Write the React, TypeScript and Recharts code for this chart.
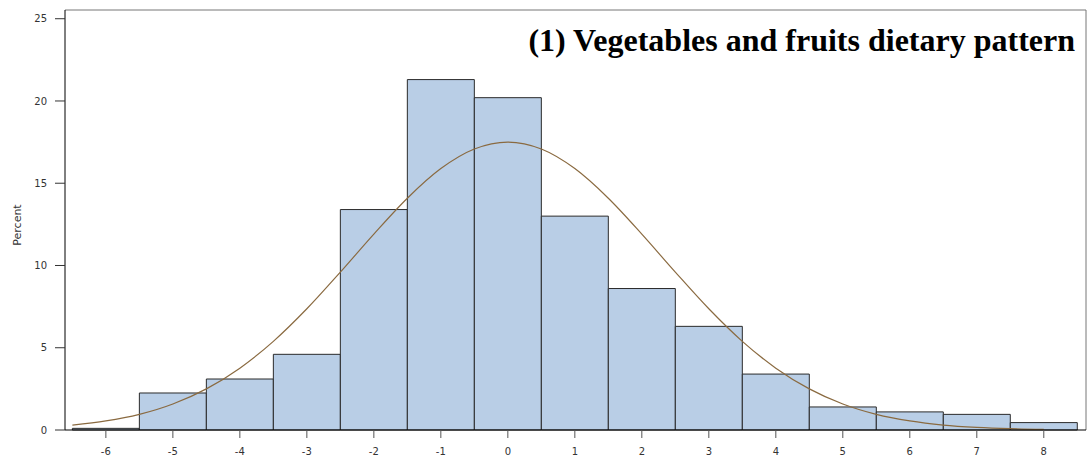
import React from "react";
import {
  ComposedChart,
  XAxis,
  YAxis,
  Line,
  ReferenceArea,
  ReferenceLine,
  Customized,
} from "recharts";

// Histogram bins (bin centre, width 1) and their percentages
const binCenters = [-6, -5, -4, -3, -2, -1, 0, 1, 2, 3, 4, 5, 6, 7, 8];
const binPercents = [0.1, 2.25, 3.1, 4.6, 13.4, 21.3, 20.2, 13.0, 8.6, 6.3, 3.4, 1.4, 1.1, 0.95, 0.45];

// Fitted normal curve, sampled every half unit
const curveX = [
  -6.5, -6, -5.5, -5, -4.5, -4, -3.5, -3, -2.5, -2, -1.5, -1, -0.5, 0,
  0.5, 1, 1.5, 2, 2.5, 3, 3.5, 4, 4.5, 5, 5.5, 6, 6.5, 7, 7.5, 8,
];
const curveY = [
  0.3, 0.55, 0.95, 1.58, 2.5, 3.76, 5.39, 7.37, 9.6, 11.91, 14.09, 15.89, 17.08, 17.5,
  17.08, 15.89, 14.09, 11.91, 9.6, 7.37, 5.39, 3.76, 2.5, 1.58, 0.95, 0.55, 0.3, 0.16, 0.08, 0.04,
];

const xTicks = [-6, -5, -4, -3, -2, -1, 0, 1, 2, 3, 4, 5, 6, 7, 8];
const yTicks = [0, 5, 10, 15, 20, 25];

const X_MIN = -6.61;
const X_MAX = 8.63;
const Y_MAX = 25.53;

const curveData = curveX.map((x, i) => ({ x, y: curveY[i] }));

const tickStyle = { fontSize: 10, fill: "#333", fontFamily: "DejaVu Sans, sans-serif" };

export default function App() {
  return (
    <div style={{ position: "absolute", left: 0, top: 0, width: 1088, height: 463, background: "#fff" }}>
      <ComposedChart
        width={1088}
        height={463}
        data={curveData}
        margin={{ top: 10, right: 2, bottom: 0, left: 0 }}
      >
        <XAxis
          dataKey="x"
          type="number"
          domain={[X_MIN, X_MAX]}
          ticks={xTicks}
          allowDataOverflow
          height={33}
          tickSize={8}
          tickMargin={10}
          tick={tickStyle}
          axisLine={{ stroke: "#000", strokeWidth: 1 }}
          tickLine={{ stroke: "#555" }}
        />
        <YAxis
          type="number"
          domain={[0, Y_MAX]}
          ticks={yTicks}
          allowDataOverflow
          width={65}
          tickSize={10}
          tickMargin={8}
          tick={tickStyle}
          axisLine={{ stroke: "#000", strokeWidth: 1 }}
          tickLine={{ stroke: "#333" }}
        />
        <ReferenceLine y={Y_MAX} stroke="#777" strokeWidth={1} ifOverflow="extendDomain" />
        <ReferenceLine x={X_MAX} stroke="#777" strokeWidth={1} ifOverflow="extendDomain" />
        {binCenters.map((c, i) => (
          <ReferenceArea
            key={c}
            x1={c - 0.5}
            x2={c + 0.5}
            y1={0}
            y2={binPercents[i]}
            fill="#b9cee6"
            fillOpacity={1}
            stroke="#2a2a2a"
            strokeWidth={1}
            ifOverflow="visible"
          />
        ))}
        <Line
          dataKey="y"
          type="monotone"
          stroke="#8a6a40"
          strokeWidth={1.2}
          dot={false}
          isAnimationActive={false}
        />
        <Customized
          component={() => (
            <g>
              <text
                x={1075}
                y={51}
                textAnchor="end"
                fontFamily="Liberation Serif, Times New Roman, serif"
                fontWeight="bold"
                fontSize={32}
                fill="#000"
              >
                (1) Vegetables and fruits dietary pattern
              </text>
              <text
                x={21}
                y={225}
                textAnchor="middle"
                transform="rotate(-90 21 225)"
                fontFamily="DejaVu Sans, sans-serif"
                fontSize={11}
                fill="#333"
              >
                Percent
              </text>
            </g>
          )}
        />
      </ComposedChart>
    </div>
  );
}
